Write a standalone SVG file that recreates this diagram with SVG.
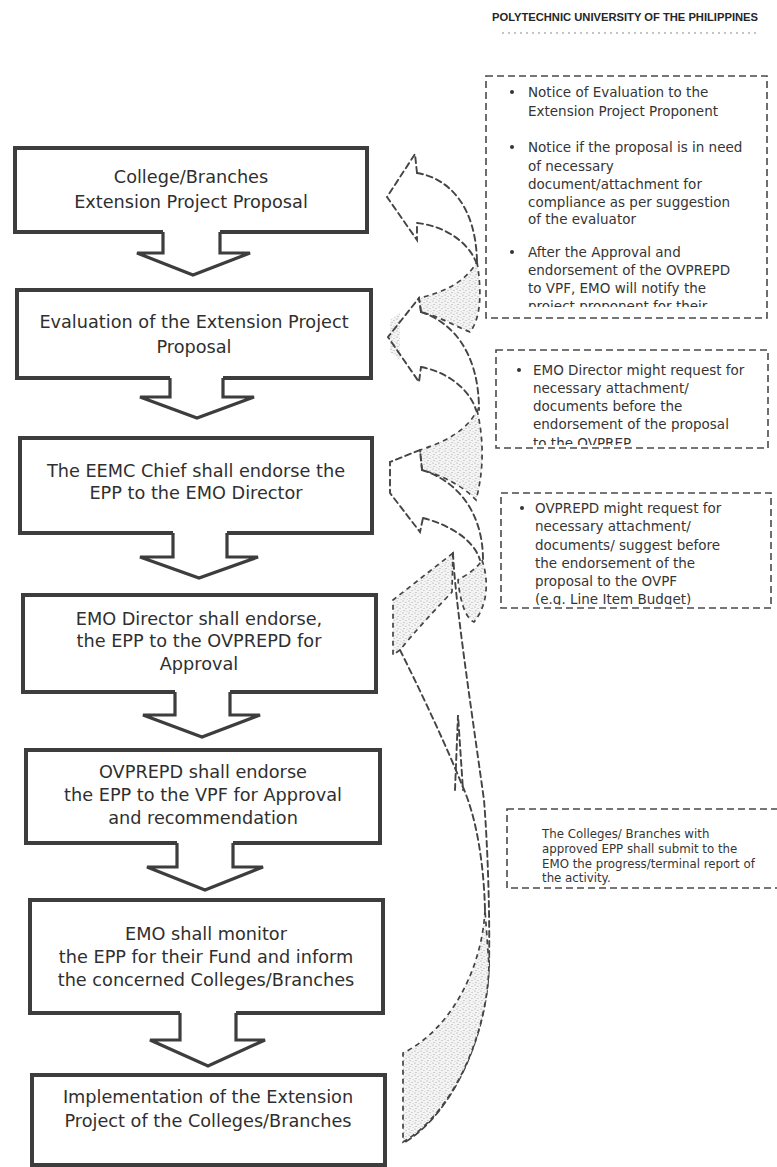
<svg xmlns="http://www.w3.org/2000/svg" width="777" height="1167" viewBox="0 0 777 1167">
<defs>
<pattern id="stip" width="6" height="6" patternUnits="userSpaceOnUse">
<rect width="6" height="6" fill="#f4f4f4"/>
<circle cx="1" cy="1" r="0.6" fill="#999"/>
<circle cx="4" cy="2.5" r="0.55" fill="#a5a5a5"/>
<circle cx="2" cy="4.5" r="0.55" fill="#999"/>
<circle cx="5" cy="5.5" r="0.45" fill="#aaa"/>
</pattern>
<clipPath id="clipA"><rect x="480" y="70" width="297" height="237"/></clipPath>
<clipPath id="clipB"><rect x="480" y="340" width="297" height="105"/></clipPath>
<clipPath id="clipC"><rect x="480" y="480" width="297" height="125"/></clipPath>
</defs>
<style>
.box{fill:#fff;stroke:#3d3d3d;stroke-width:4;stroke-linejoin:miter}
.flow{fill:#fff;stroke:#3d3d3d;stroke-width:3.2;stroke-linejoin:miter}
.bt{font-family:"DejaVu Sans",sans-serif;font-size:17.7px;fill:#2f2f2f;text-anchor:middle}
.nt{font-family:"DejaVu Sans",sans-serif;font-size:13.5px;fill:#353535}
.nd{font-family:"DejaVu Sans",sans-serif;font-size:11.8px;fill:#353535}
.dbox{fill:none;stroke:#4a4a4a;stroke-width:1.6;stroke-dasharray:7 4}
.dl{fill:none;stroke:#444;stroke-width:1.9;stroke-dasharray:6 4;stroke-linecap:round}
.st{fill:url(#stip);stroke:#444;stroke-width:1.7;stroke-dasharray:5 4}
.bul{fill:#353535}
</style>
<rect width="777" height="1167" fill="#fff"/>

<g id="header">
<text x="492" y="21" font-family="Liberation Sans, Arial, sans-serif" font-weight="bold" font-size="10.2" fill="#262626" textLength="266" lengthAdjust="spacingAndGlyphs">POLYTECHNIC UNIVERSITY OF THE PHILIPPINES</text>
<line x1="502" y1="33" x2="757" y2="33" stroke="#c4c4c4" stroke-width="2" stroke-dasharray="2 4"/>
</g>

<g id="step1">
<path class="box" d="M163,232 L15,232 L15,148 L367,148 L367,232 L220,232"/>
<text class="bt" x="191" y="183">College/Branches</text>
<text class="bt" x="191" y="208">Extension Project Proposal</text>
</g>
<g id="step2">
<path class="box" d="M170,378 L17,378 L17,290 L371,290 L371,378 L223,378"/>
<text class="bt" x="194" y="328">Evaluation of the Extension Project</text>
<text class="bt" x="194" y="353">Proposal</text>
</g>
<g id="step3">
<path class="box" d="M173,533 L20,533 L20,438 L372,438 L372,533 L227,533"/>
<text class="bt" x="196" y="477">The EEMC Chief shall endorse the</text>
<text class="bt" x="196" y="499">EPP to the EMO Director</text>
</g>
<g id="step4">
<path class="box" d="M175,692 L23,692 L23,595 L376,595 L376,692 L230,692"/>
<text class="bt" x="199" y="625">EMO Director shall endorse,</text>
<text class="bt" x="199" y="647">the EPP to the OVPREPD for</text>
<text class="bt" x="199" y="670">Approval</text>
</g>
<g id="step5">
<path class="box" d="M177,843 L26,843 L26,750 L380,750 L380,843 L233,843"/>
<text class="bt" x="203" y="778">OVPREPD shall endorse</text>
<text class="bt" x="203" y="801">the EPP to the VPF for Approval</text>
<text class="bt" x="203" y="824">and recommendation</text>
</g>
<g id="step6">
<path class="box" d="M180,1013 L30,1013 L30,900 L383,900 L383,1013 L236,1013"/>
<text class="bt" x="206" y="940">EMO shall monitor</text>
<text class="bt" x="206" y="963">the EPP for their Fund and inform</text>
<text class="bt" x="206" y="986">the concerned Colleges/Branches</text>
</g>
<g id="step7">
<rect class="box" x="32" y="1075" width="353" height="90"/>
<text class="bt" x="208" y="1103">Implementation of the Extension</text>
<text class="bt" x="208" y="1127">Project of the Colleges/Branches</text>
</g>

<g id="note1">
<rect class="dbox" x="486" y="76" width="281" height="242"/>
<g clip-path="url(#clipA)">
<circle class="bul" cx="512" cy="92" r="2"/>
<text class="nt" x="528" y="97">Notice of Evaluation to the</text>
<text class="nt" x="528" y="116">Extension Project Proponent</text>
<circle class="bul" cx="512" cy="147" r="2"/>
<text class="nt" x="528" y="152">Notice if the proposal is in need</text>
<text class="nt" x="528" y="171">of necessary</text>
<text class="nt" x="528" y="189">document/attachment for</text>
<text class="nt" x="528" y="207">compliance as per suggestion</text>
<text class="nt" x="528" y="224">of the evaluator</text>
<circle class="bul" cx="512" cy="252" r="2"/>
<text class="nt" x="528" y="257">After the Approval and</text>
<text class="nt" x="528" y="275">endorsement of the OVPREPD</text>
<text class="nt" x="528" y="293">to VPF, EMO will notify the</text>
<text class="nt" x="528" y="311">project proponent for their</text>
</g>
</g>
<g id="note2">
<rect class="dbox" x="496" y="350" width="272" height="98"/>
<g clip-path="url(#clipB)">
<circle class="bul" cx="519" cy="370" r="2"/>
<text class="nt" x="533" y="375">EMO Director might request for</text>
<text class="nt" x="533" y="393">necessary attachment/</text>
<text class="nt" x="533" y="411">documents before the</text>
<text class="nt" x="533" y="429">endorsement of the proposal</text>
<text class="nt" x="533" y="448">to the OVPREP</text>
</g>
</g>
<g id="note3">
<rect class="dbox" x="501" y="493" width="270" height="115"/>
<g clip-path="url(#clipC)">
<circle class="bul" cx="522" cy="508" r="2"/>
<text class="nt" x="535" y="513">OVPREPD might request for</text>
<text class="nt" x="535" y="531">necessary attachment/</text>
<text class="nt" x="535" y="550">documents/ suggest before</text>
<text class="nt" x="535" y="568">the endorsement of the</text>
<text class="nt" x="535" y="586">proposal to the OVPF</text>
<text class="nt" x="535" y="604">(e.g. Line Item Budget)</text>
</g>
</g>
<g id="note4">
<rect class="dbox" x="507" y="809" width="285" height="79"/>
<text class="nd" x="542" y="838">The Colleges/ Branches with</text>
<text class="nd" x="542" y="853">approved EPP shall submit to the</text>
<text class="nd" x="542" y="868">EMO the progress/terminal report of</text>
<text class="nd" x="542" y="882">the activity.</text>
</g>

<g id="connectors">
<path class="flow" d="M163,232 L163,253 L137,253 L193,275 L250,253 L220,253 L220,232"/>
<path class="flow" d="M170,378 L170,397 L140,397 L197,418 L254,397 L223,397 L223,378"/>
<path class="flow" d="M173,533 L173,557 L140,557 L199,578 L258,557 L227,557 L227,533"/>
<path class="flow" d="M175,692 L175,715 L143,715 L202,737 L260,715 L230,715 L230,692"/>
<path class="flow" d="M177,843 L177,867 L147,867 L205,890 L263,867 L233,867 L233,843"/>
<path class="flow" d="M180,1013 L180,1040 L150,1040 L208,1066 L265,1040 L236,1040 L236,1013"/>

<g id="feedback-arrows">
<path class="st" d="M477,262 C482,292 481,318 470,332 C455,326 438,316 421,312 L419,298 C445,292 465,282 477,262 Z"/>
<path class="dl" d="M417,173 L415,154 L387,197 L417,240 L417,223"/>
<path class="dl" d="M417,173 C448,178 476,205 477,262"/>
<path class="dl" d="M417,223 C445,226 468,242 476,262"/>
<path class="st" d="M477,410 C484,440 484,470 476,500 C465,488 445,476 422,470 L420,450 C445,442 468,430 477,410 Z"/>
<path fill="url(#stip)" stroke="none" d="M390,320 L400,312 L400,360 L390,352 Z"/>
<path class="dl" d="M421,312 L419,298 L388,337 L419,382 L421,367"/>
<path class="dl" d="M421,312 C452,322 479,352 479,410"/>
<path class="dl" d="M421,367 C448,372 470,390 476,410"/>
<path class="st" d="M482,560 C489,580 488,605 474,622 C465,618 460,600 458,580 C466,575 476,570 482,560 Z"/>
<path class="dl" d="M422,470 L420,450 L390,462 L390,493 L420,532 L423,518"/>
<path class="dl" d="M422,470 C455,480 483,510 483,560"/>
<path class="dl" d="M423,518 C450,525 474,540 480,560"/>
<path class="st" d="M453,553 L393,600 L393,655 L400,650 C412,635 430,615 452,592 Z"/>
<path class="dl" d="M453,553 C455,600 470,700 484,800 C488,850 490,920 489,965 C487,1040 450,1115 405,1142"/>
<path class="dl" d="M400,650 C425,700 448,750 462,785 C478,820 484,870 485,910"/>
<path class="dl" d="M455,790 L458,715 L463,790"/>
<path class="st" d="M485,910 C482,970 450,1030 403,1053 L403,1142 C450,1115 487,1040 489,965 Z"/>
</g>
</g>
</svg>
